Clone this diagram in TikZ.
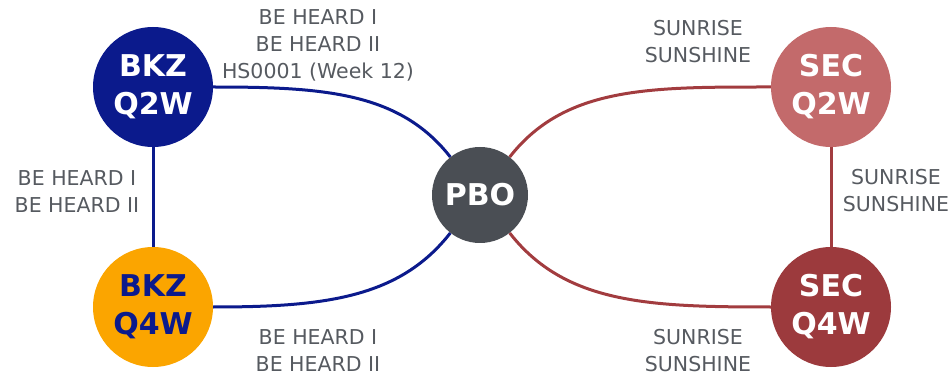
\documentclass[tikz,border=0pt]{standalone}
\usepackage{fontspec}
\setmainfont{DejaVu Sans}
\usepackage{tikz}
\usetikzlibrary{positioning}

\definecolor{bkzblue}{HTML}{0B1A8C}
\definecolor{bkzorange}{HTML}{FBA500}
\definecolor{seclight}{HTML}{C36A6B}
\definecolor{secdark}{HTML}{9C3A3D}
\definecolor{secred}{HTML}{A23C3F}
\definecolor{pbogrey}{HTML}{4A4E54}
\definecolor{tagtext}{HTML}{565A60}

\begin{document}
\begin{tikzpicture}[x=1pt, y=1pt,
	station/.style={circle, minimum size=120pt, inner sep=0pt, align=center,
		text=white, font=\fontsize{30}{38}\selectfont\bfseries},
	tag/.style={align=center, text=tagtext, font=\fontsize{20.5}{27}\selectfont},
	bkzlink/.style={draw=bkzblue, line width=3pt},
	seclink/.style={draw=secred, line width=3pt},
	swing/.style={out looseness=1.15, in looseness=0.85}]
	
	\useasboundingbox (0,0) rectangle (951,378);
	
	\def \lx {153} % left column
	\def \rx {831} % right column
	
	% stations
	\node[station, fill=bkzblue] (bkzq2w) at (\lx,291) {BKZ\\Q2W};
	\node[station, fill=bkzorange, text=bkzblue] (bkzq4w) at (\lx,71) {BKZ\\Q4W};
	\node[station, fill=seclight] (secq2w) at (\rx,291) {SEC\\Q2W};
	\node[station, fill=secdark] (secq4w) at (\rx,71) {SEC\\Q4W};
	\node[station, fill=pbogrey, minimum size=96pt] (pbo) at (480,183) {PBO};
	
	% links
	\draw[bkzlink] (bkzq2w) -- (bkzq4w);
	\draw[bkzlink] (bkzq2w) to[swing, out=0, in=128] (pbo);
	\draw[bkzlink] (bkzq4w) to[swing, out=0, in=-128] (pbo);
	\draw[seclink] (secq2w) -- (secq4w);
	\draw[seclink] (secq2w) to[swing, out=180, in=52] (pbo);
	\draw[seclink] (secq4w) to[swing, out=180, in=-52] (pbo);
	
	% programmes on each link
	\node[tag] (tagtl) at (318,333) {BE HEARD I\\BE HEARD II\\HS0001 (Week 12)};
	\node[tag] (tagml) at (77,186) {BE HEARD I\\BE HEARD II};
	\node[tag] (tagbl) at (318,27) {BE HEARD I\\BE HEARD II};
	\node[tag] (tagtr) at (698,336) {SUNRISE\\SUNSHINE};
	\node[tag] (tagmr) at (896,187) {SUNRISE\\SUNSHINE};
	\node[tag] (tagbr) at (698,27) {SUNRISE\\SUNSHINE};
	
\end{tikzpicture}
\end{document}
